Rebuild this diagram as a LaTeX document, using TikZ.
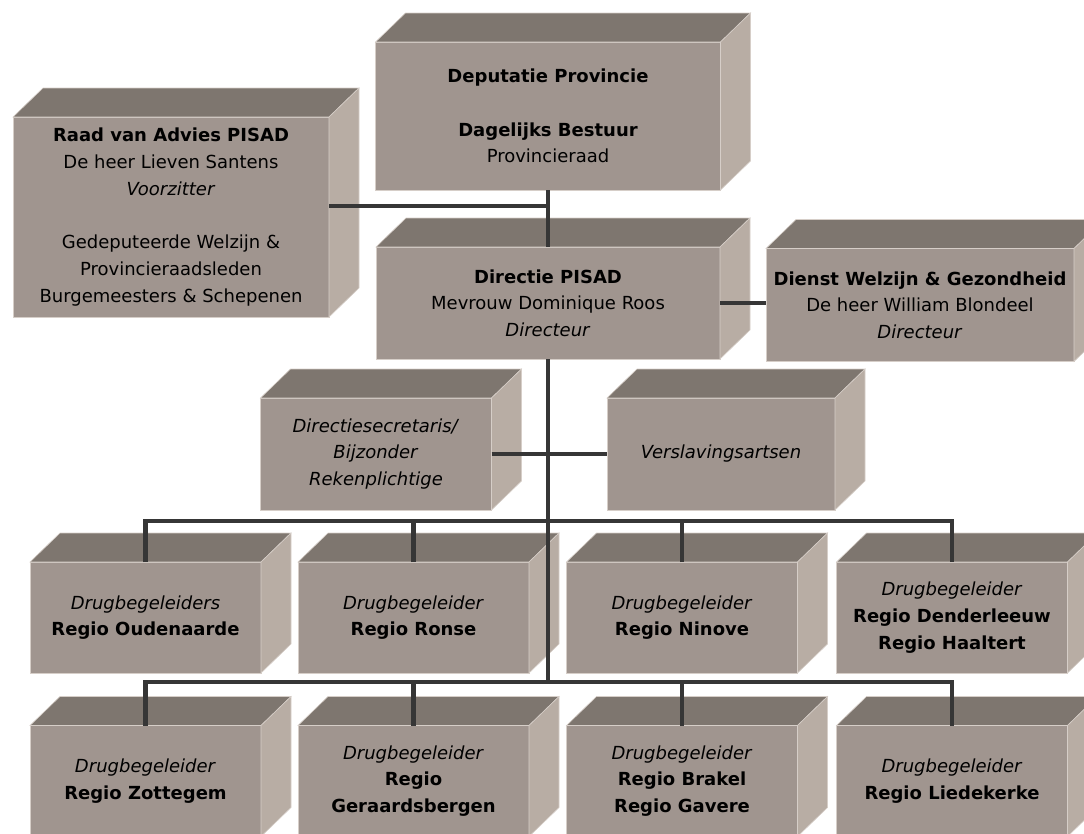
\documentclass[tikz,border=0pt]{standalone}
\usepackage{fontspec}
\setmainfont{DejaVu Sans}
\definecolor{boxfront}{HTML}{A0958F}
\definecolor{boxtop}{HTML}{7E766F}
\definecolor{boxside}{HTML}{B8ADA4}
\definecolor{boxedge}{HTML}{D6CEC8}
\definecolor{linkgray}{HTML}{363636}
\begin{document}
\begin{tikzpicture}[x=1pt,y=-1pt,
   box/.style 2 args={fill=boxfront,draw=boxedge,line width=0.6pt,inner sep=0pt,outer sep=0pt,
      minimum width=#1,minimum height=#2,align=center,font=\fontsize{18}{26.7}\selectfont},
   regio/.style={box={231pt}{111pt}},
   face/.style={fill=#1,draw=boxedge,line width=0.6pt},
   link/.style={draw=linkgray,line width=4.5pt}]
\clip (0,0) rectangle (1084,833);
\node[box={345pt}{148pt}] (dep) at (548,116) {\textbf{Deputatie Provincie}\\[26.7pt]\textbf{Dagelijks Bestuur}\\ Provincieraad};
\node[box={316pt}{200pt}] (raad) at (171,217) {\textbf{Raad van Advies PISAD}\\ De heer Lieven Santens\\ \textit{Voorzitter}\\[26.7pt]
   Gedeputeerde Welzijn \&\\ Provincieraadsleden\\ Burgemeesters \& Schepenen};
\node[box={344pt}{112pt}] (dir) at (548,303) {\textbf{Directie PISAD}\\ Mevrouw Dominique Roos\\ \textit{Directeur}};
\node[box={308pt}{113pt}] (dienst) at (920,305) {\textbf{Dienst Welzijn \& Gezondheid}\\ De heer William Blondeel\\ \textit{Directeur}};
\node[box={231pt}{112pt}] (sec) at (376,454) {\textit{Directiesecretaris/}\\ \textit{Bijzonder}\\ \textit{Rekenplichtige}};
\node[box={228pt}{112pt}] (vers) at (721,454) {\textit{Verslavingsartsen}};
\node[regio] (oud) at (145.5,617.5) {\textit{Drugbegeleiders}\\ \textbf{Regio Oudenaarde}};
\node[regio] (ron) at (413.5,617.5) {\textit{Drugbegeleider}\\ \textbf{Regio Ronse}};
\node[regio] (nin) at (682,617.5) {\textit{Drugbegeleider}\\ \textbf{Regio Ninove}};
\node[regio] (den) at (952,617.5) {\textit{Drugbegeleider}\\ \textbf{Regio Denderleeuw}\\ \textbf{Regio Haaltert}};
\node[regio] (zot) at (145.5,781) {\textit{Drugbegeleider}\\ \textbf{Regio Zottegem}};
\node[regio] (ger) at (413.5,781) {\textit{Drugbegeleider}\\ \textbf{Regio}\\ \textbf{Geraardsbergen}};
\node[regio] (bra) at (682,781) {\textit{Drugbegeleider}\\ \textbf{Regio Brakel}\\ \textbf{Regio Gavere}};
\node[regio] (lie) at (952,781) {\textit{Drugbegeleider}\\ \textbf{Regio Liedekerke}};
\foreach \n in {dep,raad,dir,dienst,sec,vers,oud,ron,nin,den,zot,ger,bra,lie}{
  \path[face=boxtop] (\n.north west) -- ++(30,-29) -- ([shift={(30,-29)}]\n.north east) -- (\n.north east) -- cycle;
  \path[face=boxside] (\n.north east) -- ++(30,-29) -- ([shift={(30,-29)}]\n.south east) -- (\n.south east) -- cycle;
}
\coordinate (raadjoin) at (548,206);
\coordinate (bus1) at (548,521);
\coordinate (bus2) at (548,682);
\draw[link] (dep.south) -- (dep.south |- dir.north);
\draw[link] (raadjoin -| raad.east) -- (raadjoin);
\draw[link] (dir.east) -- (dir.east -| dienst.west);
\draw[link] (dir.south) -- (bus2);
\draw[link] (sec.east) -- (vers.west);
\draw[link] (oud.north) -- (oud.north |- bus1) -| (den.north);
\draw[link] (zot.north) -- (zot.north |- bus2) -| (lie.north);
\foreach \n in {ron,nin}{
  \draw[link] (\n.north) -- (\n.north |- bus1);
}
\foreach \n in {ger,bra}{
  \draw[link] (\n.north) -- (\n.north |- bus2);
}
\end{tikzpicture}
\end{document}
